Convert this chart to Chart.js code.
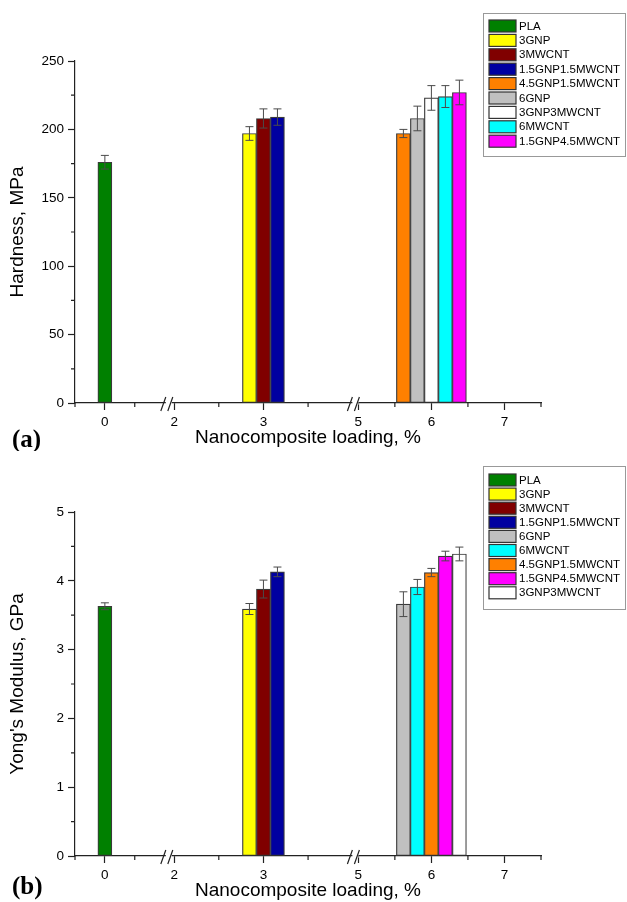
<!DOCTYPE html>
<html>
<head>
<meta charset="utf-8">
<script src="https://cdn.jsdelivr.net/npm/chart.js@4.4.1/dist/chart.umd.min.js"></script>
<style>
  html, body { margin: 0; padding: 0; background: #fff; }
  .panel { position: relative; width: 627px; height: 451px; }
</style>
</head>
<body>
<div class="panel"><canvas id="hardnessChart" width="627" height="451"></canvas></div>
<div class="panel"><canvas id="modulusChart" width="627" height="451"></canvas></div>
<script>
// --- Data ---
const GROUP_LOADINGS = [0, 3, 6];
const X_TICKS = [0, 2, 3, 5, 6, 7];
const X_MINOR_TICKS = [-0.5, 0.5, 2.5, 3.5, 5.5, 6.5, 7.5];
// broken x axis: [from, to, length in display units]
const X_SEGMENTS = [[-0.5, 1.07, 94], [1.94, 4.03, 187], [4.96, 7.5, 186]];

const HARDNESS_SERIES = ['PLA', '3GNP', '3MWCNT', '1.5GNP1.5MWCNT', '4.5GNP1.5MWCNT', '6GNP', '3GNP3MWCNT', '6MWCNT', '1.5GNP4.5MWCNT'];
const HARDNESS_LOADING = [0, 3, 3, 3, 6, 6, 6, 6, 6];
const HARDNESS_VALUES = [176, 197, 208, 209, 197, 208, 223, 224, 227];
const HARDNESS_ERRORS = [5, 5, 7, 6, 3, 9, 9, 8, 9];

const MODULUS_SERIES = ['PLA', '3GNP', '3MWCNT', '1.5GNP1.5MWCNT', '6GNP', '6MWCNT', '4.5GNP1.5MWCNT', '1.5GNP4.5MWCNT', '3GNP3MWCNT'];
const MODULUS_LOADING = [0, 3, 3, 3, 6, 6, 6, 6, 6];
const MODULUS_VALUES = [3.63, 3.59, 3.88, 4.13, 3.66, 3.91, 4.12, 4.36, 4.39];
const MODULUS_ERRORS = [0.05, 0.08, 0.13, 0.07, 0.18, 0.11, 0.06, 0.07, 0.1];

const SERIES_COLORS = {
    'PLA': '#008000', '3GNP': '#ffff00', '3MWCNT': '#800000', '1.5GNP1.5MWCNT': '#0000a0',
    '4.5GNP1.5MWCNT': '#ff8000', '6GNP': '#c0c0c0', '3GNP3MWCNT': '#ffffff',
    '6MWCNT': '#00ffff', '1.5GNP4.5MWCNT': '#ff00ff'
};

const X_AXIS_LENGTH = X_SEGMENTS.reduce((s, seg) => s + seg[2], 0);

// map a loading value onto the broken axis
function toDisplay(v) {
    let offset = 0;
    for (const [from, to, len] of X_SEGMENTS) {
        if (v <= to) return offset + (v - from) / (to - from) * len;
        offset += len;
    }
    return offset;
}

Chart.defaults.font.family = '"Liberation Sans", Arial, sans-serif';
Chart.defaults.color = '#000';

// --- Plugins ---
const errorBars = {
    id: 'errorBars',
    afterDatasetsDraw(chart) {
        const ctx = chart.ctx, yScale = chart.scales.y;
        ctx.save();
        ctx.strokeStyle = '#4a4a4a';
        ctx.lineWidth = 1;
        chart.data.datasets.forEach((ds, di) => {
            chart.getDatasetMeta(di).data.forEach((bar, i) => {
                const v = ds.data[i].y, e = ds.errors[i];
                if (v === null) return;
                const top = yScale.getPixelForValue(v + e), bot = yScale.getPixelForValue(v - e);
                ctx.beginPath();
                ctx.moveTo(bar.x, top); ctx.lineTo(bar.x, bot);
                ctx.moveTo(bar.x - 4, top); ctx.lineTo(bar.x + 4, top);
                ctx.moveTo(bar.x - 4, bot); ctx.lineTo(bar.x + 4, bot);
                ctx.stroke();
            });
        });
        ctx.restore();
    }
};

const axisExtras = {
    id: 'axisExtras',
    afterDraw(chart, args, opts) {
        const ctx = chart.ctx, x = chart.scales.x, y = chart.scales.y;
        const area = chart.chartArea;
        ctx.save();
        ctx.strokeStyle = '#222';
        ctx.lineWidth = 1.2;
        // minor ticks
        ctx.beginPath();
        X_MINOR_TICKS.forEach(v => {
            const px = x.getPixelForValue(toDisplay(v));
            ctx.moveTo(px, area.bottom); ctx.lineTo(px, area.bottom + 4);
        });
        for (let v = opts.minorStep; v < y.max; v += 2 * opts.minorStep) {
            const py = y.getPixelForValue(v);
            ctx.moveTo(area.left, py); ctx.lineTo(area.left - 4, py);
        }
        ctx.stroke();
        // axis breaks
        let edge = 0;
        X_SEGMENTS.slice(0, -1).forEach(seg => {
            edge += seg[2];
            const px = x.getPixelForValue(edge);
            ctx.fillStyle = '#fff';
            ctx.fillRect(px - 3, area.bottom - 2, 6, 4);
            ctx.beginPath();
            ctx.moveTo(px - 8, area.bottom + 8); ctx.lineTo(px - 3, area.bottom - 6);
            ctx.moveTo(px - 1, area.bottom + 8); ctx.lineTo(px + 4, area.bottom - 6);
            ctx.stroke();
        });
        // panel label
        ctx.fillStyle = '#000';
        ctx.font = 'bold 25px "Liberation Serif", "Times New Roman", serif';
        ctx.textBaseline = 'alphabetic';
        ctx.fillText(opts.panel, 12, opts.panelY);
        ctx.restore();
    }
};

const boxLegend = {
    id: 'boxLegend',
    afterDraw(chart, args, opts) {
        const ctx = chart.ctx;
        ctx.save();
        ctx.strokeStyle = '#999';
        ctx.lineWidth = 1;
        ctx.strokeRect(opts.x + 0.5, opts.y + 0.5, opts.w, opts.h);
        ctx.font = '11.5px "Liberation Sans", Arial, sans-serif';
        ctx.textBaseline = 'middle';
        chart.data.datasets.forEach((ds, i) => {
            const cy = opts.y + opts.first + i * opts.row;
            ctx.fillStyle = ds.backgroundColor;
            ctx.fillRect(opts.x + 6, cy - 6, 27, 12);
            ctx.strokeStyle = '#333';
            ctx.lineWidth = 1.2;
            ctx.strokeRect(opts.x + 6, cy - 6, 27, 12);
            ctx.fillStyle = '#000';
            ctx.fillText(ds.label, opts.x + 36, cy + 0.5);
        });
        ctx.restore();
    }
};

// --- Chart builder ---
function buildChart(canvasId, cfg) {
    const datasets = cfg.series.map((name, i) => ({
        label: name,
        data: GROUP_LOADINGS.map(g => ({ x: toDisplay(g), y: g === cfg.loading[i] ? cfg.values[i] : null })),
        errors: GROUP_LOADINGS.map(g => g === cfg.loading[i] ? cfg.errors[i] : null),
        backgroundColor: SERIES_COLORS[name],
        borderColor: '#3a3a3a',
        borderWidth: 1.2,
        borderSkipped: false,
        barThickness: 14,
        skipNull: true
    }));

    return new Chart(document.getElementById(canvasId), {
        type: 'bar',
        data: { datasets },
        plugins: [errorBars, axisExtras, boxLegend],
        options: {
            responsive: false,
            animation: false,
            layout: { padding: { top: 61, right: 86, left: 0, bottom: 0 } },
            datasets: { bar: { skipNull: true } },
            scales: {
                x: {
                    type: 'linear',
                    min: 0,
                    max: X_AXIS_LENGTH,
                    offset: false,
                    afterBuildTicks: scale => { scale.ticks = X_TICKS.map(v => ({ value: toDisplay(v) })); },
                    afterFit: scale => { scale.height = cfg.xHeight; },
                    grid: { drawOnChartArea: false, offset: false, tickLength: 7, tickColor: '#222', tickWidth: 1.2 },
                    border: { color: '#222', width: 1.2 },
                    ticks: { autoSkip: false, maxRotation: 0, padding: 4, font: { size: 13.5 }, callback: (val, idx) => X_TICKS[idx] },
                    title: { display: true, text: 'Nanocomposite loading, %', font: { size: 19 }, padding: { bottom: cfg.titlePad } }
                },
                y: {
                    min: 0,
                    max: cfg.yMax,
                    ticks: { stepSize: cfg.yStep, padding: 4, font: { size: 13.5 } },
                    afterFit: scale => { scale.width = 75; },
                    grid: { drawOnChartArea: false, tickLength: 7, tickColor: '#222', tickWidth: 1.2 },
                    border: { color: '#222', width: 1.2 },
                    title: { display: true, text: cfg.yTitle, font: { size: 19 }, padding: { top: 6 } }
                }
            },
            plugins: {
                legend: { display: false },
                tooltip: { enabled: false },
                axisExtras: { minorStep: cfg.yStep / 2, panel: cfg.panel, panelY: cfg.panelY },
                boxLegend: cfg.legend
            }
        }
    });
}

buildChart('hardnessChart', {
    series: HARDNESS_SERIES, loading: HARDNESS_LOADING, values: HARDNESS_VALUES, errors: HARDNESS_ERRORS,
    yMax: 250, yStep: 50, yTitle: 'Hardness, MPa', xHeight: 48, titlePad: 2,
    panel: '(a)', panelY: 447,
    legend: { x: 483, y: 13, w: 142, h: 143, first: 13, row: 14.4 }
});

buildChart('modulusChart', {
    series: MODULUS_SERIES, loading: MODULUS_LOADING, values: MODULUS_VALUES, errors: MODULUS_ERRORS,
    yMax: 5, yStep: 1, yTitle: "Yong's Modulus, GPa", xHeight: 46, titlePad: 0,
    panel: '(b)', panelY: 443,
    legend: { x: 483, y: 15, w: 142, h: 143, first: 14, row: 14.1 }
});
</script>
</body>
</html>
